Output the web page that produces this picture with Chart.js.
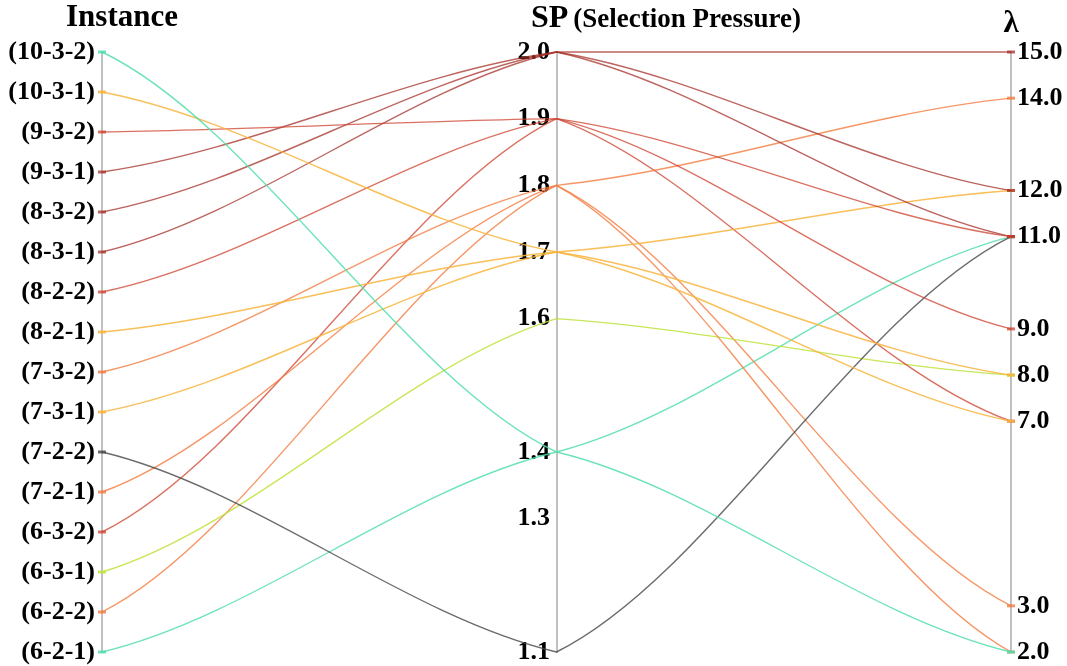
<!DOCTYPE html>
<html>
<head>
<meta charset="utf-8">
<script src="https://cdn.jsdelivr.net/npm/chart.js@4"></script>
<style>
  body { margin: 0; background: #fff; }
  #wrap { width: 1067px; height: 666px; }
</style>
</head>
<body>
<div id="wrap"><canvas id="pcChart"></canvas></div>
<script>
// one line per instance: Instance -> SP -> lambda
const axesNames = ['Instance', 'SP', 'λ'];
const instances = ['(10-3-2)', '(10-3-1)', '(9-3-2)', '(9-3-1)', '(8-3-2)', '(8-3-1)', '(8-2-2)', '(8-2-1)',
  '(7-3-2)', '(7-3-1)', '(7-2-2)', '(7-2-1)', '(6-3-2)', '(6-3-1)', '(6-2-2)', '(6-2-1)'];
const spValues = [1.4, 1.7, 1.9, 2.0, 2.0, 2.0, 1.9, 1.7, 1.8, 1.7, 1.1, 1.8, 1.9, 1.6, 1.8, 1.4];
const lambdaValues = [2, 7, 11, 15, 12, 11, 9, 12, 14, 8, 11, 2, 7, 8, 3, 11];
const spTicks = [2.0, 1.9, 1.8, 1.7, 1.6, 1.4, 1.3, 1.1];
const lambdaTicks = [15, 14, 12, 11, 9, 8, 7, 3, 2];

const spMin = 1.1, spMax = 2.0, lamMin = 2, lamMax = 15;

// line colour follows SP
const spColors = {
  '2.0': 'rgba(165,48,40,0.75)',
  '1.9': 'rgba(205,64,44,0.75)',
  '1.8': 'rgba(244,124,64,0.8)',
  '1.7': 'rgba(248,180,60,0.85)',
  '1.6': 'rgba(190,226,60,0.85)',
  '1.4': 'rgba(84,222,172,0.85)',
  '1.1': 'rgba(70,70,70,0.8)'
};

const nInst = instances.length - 1;
const datasets = instances.map((name, i) => ({
  label: name,
  data: [
    1 - i / nInst,
    (spValues[i] - spMin) / (spMax - spMin),
    (lambdaValues[i] - lamMin) / (lamMax - lamMin)
  ],
  borderColor: spColors[spValues[i].toFixed(1)],
  backgroundColor: spColors[spValues[i].toFixed(1)],
  borderWidth: 1.4,
  tension: 0.3,
  pointStyle: 'line',
  pointRadius: c => (c.dataIndex === 1 ? 0 : 4),
  pointBorderWidth: 3,
  clip: 8
}));

// each segment between two axes is its own soft S curve
const handleX = 1 / 3, handleY = 0.18;
const segmentCurves = {
  id: 'segmentCurves',
  beforeDatasetDraw(chart, args) {
    const line = args.meta.dataset;
    line.updateControlPoints(chart.chartArea, 'x');
    const pts = line.points;
    for (let i = 0; i < pts.length - 1; i++) {
      const p = pts[i], q = pts[i + 1];
      const dx = q.x - p.x, dy = q.y - p.y;
      p.cp2x = p.x + dx * handleX; p.cp2y = p.y + dy * handleY;
      q.cp1x = q.x - dx * handleX; q.cp1y = q.y - dy * handleY;
    }
    line._path = undefined;
  }
};

const titles = {
  id: 'titles',
  afterDraw(chart) {
    const c = chart.ctx;
    c.save();
    c.fillStyle = '#000';
    c.textBaseline = 'alphabetic';
    c.textAlign = 'center';
    c.font = 'bold 31px "Liberation Serif"';
    c.fillText(axesNames[0], 122, 26);
    c.textAlign = 'left';
    c.font = 'bold 32px "Liberation Serif"';
    c.fillText(axesNames[1], 531, 27);
    const w = c.measureText(axesNames[1] + ' ').width;
    c.font = 'bold 27px "Liberation Serif"';
    c.fillText('(Selection Pressure)', 531 + w - 3, 27);
    c.textAlign = 'center';
    c.font = 'bold 31px "Liberation Serif"';
    c.fillText(axesNames[2], 1011, 32);
    c.restore();
  }
};

const font = { family: 'Liberation Serif', size: 26, weight: 'bold' };
const noPad = s => { s.paddingTop = 0; s.paddingBottom = 0; };

new Chart(document.getElementById('pcChart'), {
  type: 'line',
  data: { labels: axesNames, datasets },
  options: {
    responsive: true,
    maintainAspectRatio: false,
    animation: false,
    layout: { padding: { top: 52, bottom: 14, left: 0, right: 0 } },
    plugins: { legend: { display: false }, tooltip: { enabled: false } },
    scales: {
      x: { type: 'category', offset: false, display: false },
      y: { min: 0, max: 1, display: false },
      yInst: {
        type: 'linear', position: 'left', min: 0, max: nInst, reverse: true,
        afterBuildTicks: s => { s.ticks = instances.map((_, i) => ({ value: i })); },
        afterFit: s => { s.width = 102; noPad(s); },
        grid: { display: false, drawTicks: false },
        border: { display: true, color: '#c0c0c0', width: 2 },
        ticks: { color: '#000', font, padding: 7, autoSkip: false, callback: v => instances[v] }
      },
      ySP: {
        type: 'linear', position: { x: 1 }, min: spMin, max: spMax,
        afterBuildTicks: s => { s.ticks = spTicks.map(v => ({ value: v })); },
        afterFit: s => { s.width = 0; noPad(s); },
        grid: { display: false, drawTicks: false },
        border: { display: true, color: '#c0c0c0', width: 2 },
        ticks: { color: '#000', font, autoSkip: false, callback: v => v.toFixed(1) + ' ' }
      },
      yLam: {
        type: 'linear', position: 'right', min: lamMin, max: lamMax,
        afterBuildTicks: s => { s.ticks = lambdaTicks.map(v => ({ value: v })); },
        afterFit: s => { s.width = 56; noPad(s); },
        grid: { display: false, drawTicks: false },
        border: { display: true, color: '#c0c0c0', width: 2 },
        ticks: { color: '#000', font, padding: 6, autoSkip: false, callback: v => v.toFixed(1) }
      }
    }
  },
  plugins: [segmentCurves, titles]
});
</script>
</body>
</html>
